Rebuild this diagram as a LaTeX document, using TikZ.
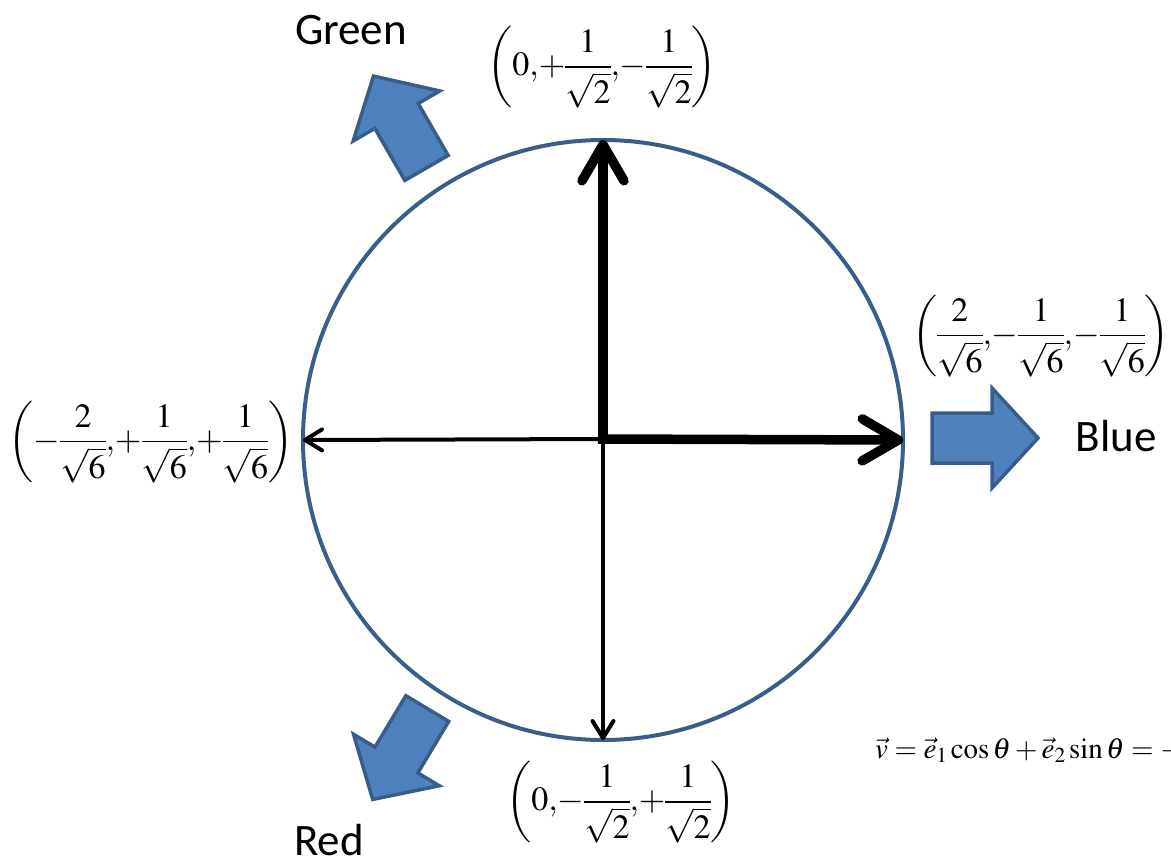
\documentclass[tikz,border=0pt]{standalone}
\usepackage{mathptmx}
\usepackage{fontspec}
\setmainfont{Liberation Serif}
\newfontfamily\labelfont{Carlito}
\usetikzlibrary{arrows.meta}
\definecolor{arrfill}{HTML}{4F81BD}
\definecolor{arrline}{HTML}{385D8A}
\definecolor{circline}{HTML}{3A5E8C}
\newcommand{\cm}{\mathord{,}}
\newcommand{\pl}{\mathord{+}}
\newcommand{\mn}{\mathord{-}}
\newcommand{\fr}[2]{\frac{\rule{0pt}{0.72em}#1}{\rule{0pt}{0.95em}\sqrt{#2}}}
\newcommand{\lbl}[1]{\fontsize{34}{40}\selectfont\nulldelimiterspace=0pt$\displaystyle\left(\vrule width0pt height1.45em depth0.95em #1\right)$}
\tikzset{
  blockarrow/.pic={
    \draw[fill=arrfill, draw=arrline, line width=3.5pt, line join=miter]
      (-53,-25) -- (7,-25) -- (7,-50) -- (53,0) -- (7,50) -- (7,25) -- (-53,25) -- cycle;
  },
  thickarr/.style={line width=9.5pt, -{Straight Barb[length=36pt,width=42pt,round]}},
  thinarr/.style={line width=4pt, -{Straight Barb[length=17pt,width=21pt,round]}},
  coordlabel/.style={inner sep=0pt},
  colorlabel/.style={font=\labelfont\fontsize{45}{54}\selectfont, inner sep=0pt},
}
\begin{document}
\begin{tikzpicture}[x=1pt,y=-1pt]
\useasboundingbox (0,0) rectangle (1171,857);
\clip (0,0) rectangle (1171,857);
\node[circle, draw=circline, line width=4pt, minimum size=600pt, inner sep=0pt, outer sep=0pt] (C) at (603,440) {};
\coordinate (O) at (603,439);
\draw[thinarr] (O) -- (C.west);
\draw[thinarr] (O) -- (C.south);
\draw[thickarr] ([yshift=-4pt]O) -- (C.north);
\draw[thickarr] ([xshift=-5pt]O) -- (C.east);

\node[coordlabel] (Ltop) at (602,67) {\lbl{0\cm\pl\fr{1}{2}\cm\mn\fr{1}{2}}};
\node[coordlabel] (Lleft) at (151,442) {\lbl{\mn\fr{2}{6}\cm\pl\fr{1}{6}\cm\pl\fr{1}{6}}};
\node[coordlabel] (Lright) at (1041,336) {\lbl{\fr{2}{6}\cm\mn\fr{1}{6}\cm\mn\fr{1}{6}}};
\node[coordlabel] (Lbot) at (621,802) {\lbl{0\cm\mn\fr{1}{2}\cm\pl\fr{1}{2}}};

\pic at (985,438) {blockarrow};
\pic[rotate=120] at (400,122) {blockarrow};
\pic[rotate=239] at (400,754) {blockarrow};

\node[colorlabel] (Green) at (351,30) {Green};
\node[colorlabel] (Blue) at (1116,436) {Blue};
\node[colorlabel] (Red) at (329,840) {Red};

\node[anchor=base west, inner sep=0pt] (Eq) at (875,758)
  {\fontsize{29}{34}\selectfont$\vec{v}=\vec{e}_1\cos\theta+\vec{e}_2\sin\theta=-$};
\end{tikzpicture}
\end{document}
